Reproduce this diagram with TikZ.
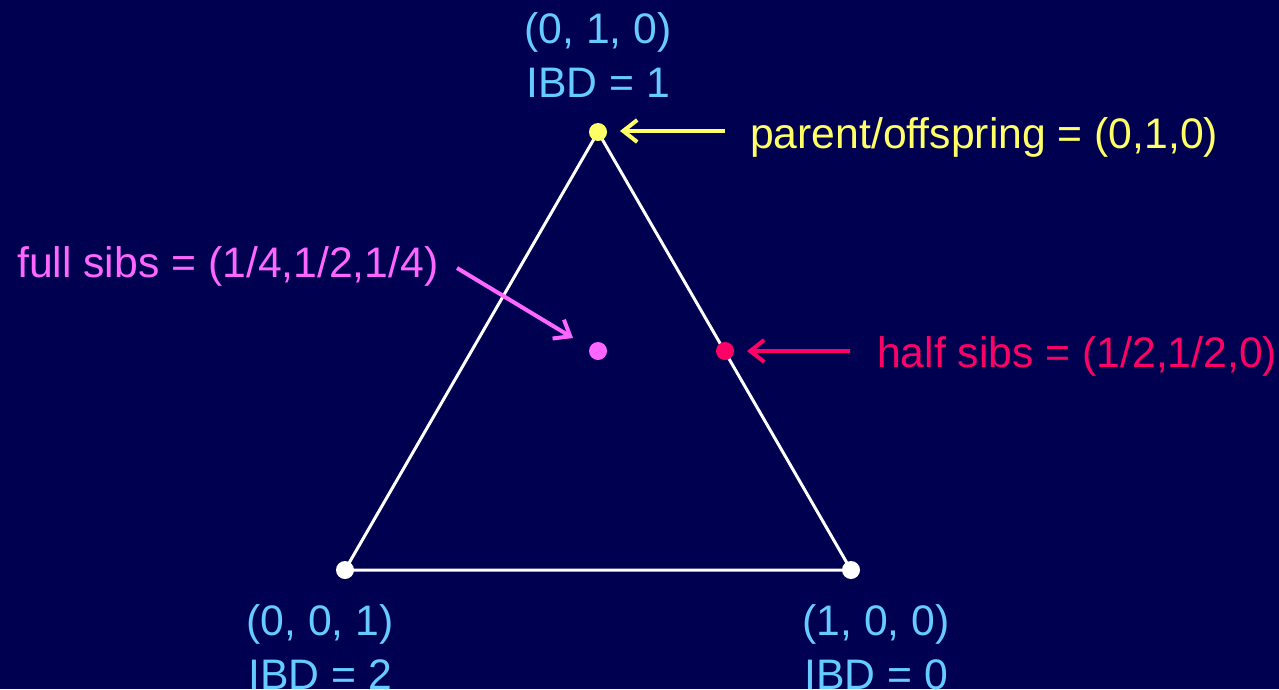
\documentclass[tikz,border=0pt]{standalone}
\usepackage{fontspec}
\setmainfont{Liberation Sans}
\usetikzlibrary{arrows.meta}
\definecolor{bg}{HTML}{000050}
\definecolor{lblue}{HTML}{66CCFF}
\definecolor{yel}{HTML}{FFFF66}
\definecolor{mag}{HTML}{FF66FF}
\definecolor{hpink}{HTML}{FF0066}
\tikzset{
  lbl/.style={font=\fontsize{42.7}{48}\selectfont, inner sep=0pt},
  vdot/.style={circle, fill=#1, minimum size=18pt, inner sep=0pt},
  side/.style={draw=white, line width=3pt},
  ptr/.style={draw=#1, line width=4pt, -{Straight Barb[length=14pt,width=22pt,line width=4pt]}}
}
\begin{document}
\begin{tikzpicture}[x=1pt,y=-1pt]
\fill[bg] (0,0) rectangle (1279,689);
\useasboundingbox (0,0) rectangle (1279,689);
\coordinate (T) at (598,132);
\coordinate (L) at (345,570);
\coordinate (R) at (851,570);
\draw[side] (T) -- (L) -- (R) -- cycle;
\node[vdot=yel] (top) at (T) {};
\node[vdot=white] (left) at (L) {};
\node[vdot=white] (right) at (R) {};
\node[vdot=mag] (full) at (598,351) {};
\node[vdot=hpink] (half) at (725,351) {};
% vertex labels
\node[lbl, text=lblue, anchor=base] (t1) at (598,43) {(0, 1, 0)};
\node[lbl, text=lblue, anchor=base] (t2) at (598,97) {IBD = 1};
\node[lbl, text=lblue, anchor=base] (l1) at (320,635) {(0, 0, 1)};
\node[lbl, text=lblue, anchor=base] (l2) at (320,689) {IBD = 2};
\node[lbl, text=lblue, anchor=base] (r1) at (876,635) {(1, 0, 0)};
\node[lbl, text=lblue, anchor=base] (r2) at (876,689) {IBD = 0};
% annotations
\node[lbl, text=yel, anchor=base west] (po) at (750,148) {parent/offspring = (0,1,0)};
\node[lbl, text=mag, anchor=base west] (fs) at (17,277) {full sibs = (1/4,1/2,1/4)};
\node[lbl, text=hpink, anchor=base west] (hs) at (877,367) {half sibs = (1/2,1/2,0)};
\coordinate (poA) at (725,131);
\coordinate (poB) at (620,131);
\coordinate (fsA) at (457,268);
\coordinate (fsB) at (573,338);
\coordinate (hsA) at (850,351);
\coordinate (hsB) at (747,351);
\draw[ptr=yel] (poA) -- (poB);
\draw[ptr=mag] (fsA) -- (fsB);
\draw[ptr=hpink] (hsA) -- (hsB);
\end{tikzpicture}
\end{document}
